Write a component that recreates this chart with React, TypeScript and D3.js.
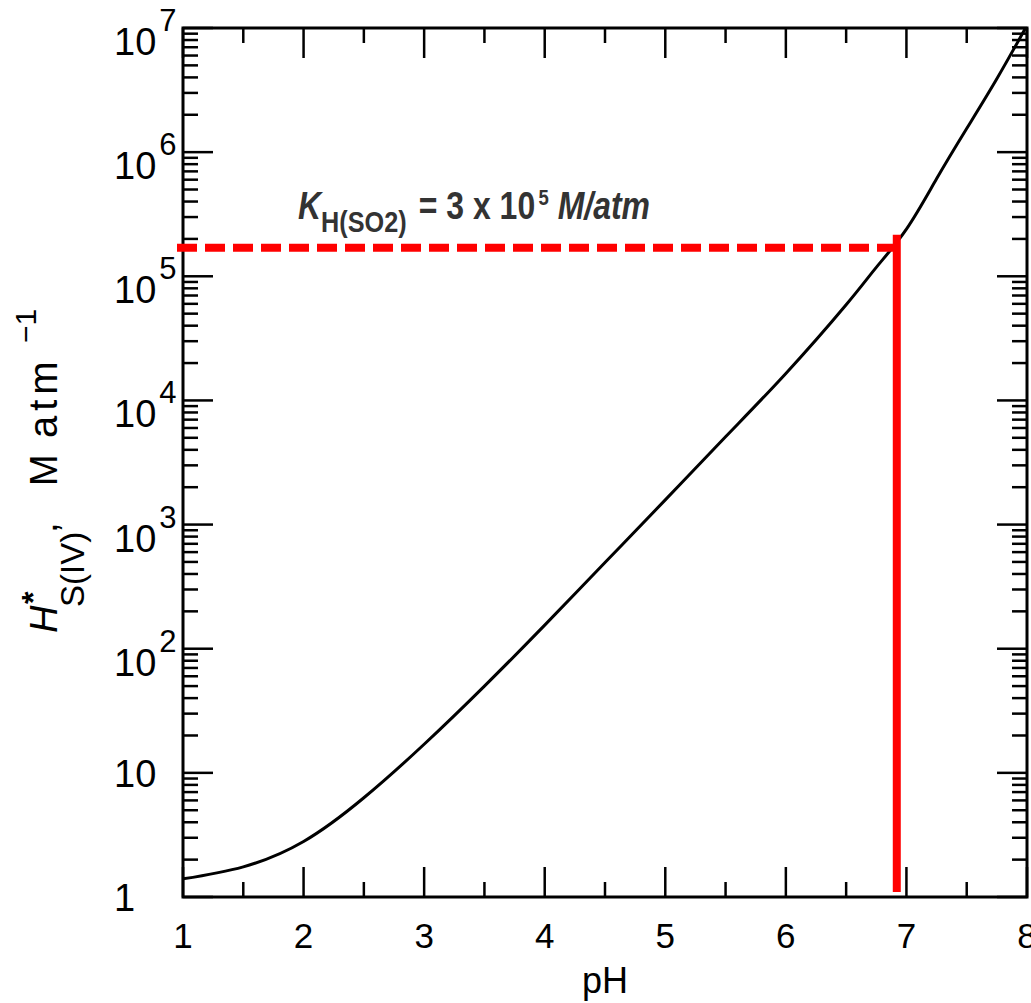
import React, { useRef, useEffect } from 'react';
import * as d3 from 'd3';

// curve: pH vs H*_S(IV) (M/atm)
const pHValues = [1, 1.5, 2, 2.5, 3, 3.5, 4, 4.5, 5, 5.5, 6, 6.5, 6.75, 7, 7.25, 7.5, 7.75, 8];
const hStarValues = [1.4, 1.75, 2.8, 6.3, 17, 50, 155, 495, 1580, 5100, 16500, 59000, 118000, 240000, 610000, 1.55e6, 3.9e6, 1.05e7];

const xMajorTicks = [1, 2, 3, 4, 5, 6, 7, 8];
const xMinorTicks = [1.5, 2.5, 3.5, 4.5, 5.5, 6.5, 7.5];
const yDecades = [1, 1e1, 1e2, 1e3, 1e4, 1e5, 1e6, 1e7];
const yTickBase = ['1', '10', '10', '10', '10', '10', '10', '10'];
const yTickExp = ['', '', '2', '3', '4', '5', '6', '7'];

// red marker
const markerPH = 6.92;
const markerValue = 1.7e5;

const App = () => {
    const chartRef = useRef<SVGSVGElement | null>(null);

    useEffect(() => {
        const width = 1031;
        const height = 1003;
        const margin = { top: 28, right: 4, bottom: 106, left: 183 };
        const font = '"Liberation Sans", Arial, Helvetica, sans-serif';

        const svg = d3.select(chartRef.current);
        svg.selectAll('*').remove();
        svg.attr('width', width).attr('height', height);

        const x = d3.scaleLinear().domain([1, 8]).range([margin.left, width - margin.right]);
        const y = d3.scaleLog().domain([1, 1e7]).range([height - margin.bottom, margin.top]);

        const [x0, x1] = x.range();
        const [y0, y1] = y.range(); // y0 bottom, y1 top

        svg.append('defs').append('clipPath').attr('id', 'plotClip')
            .append('rect')
            .attr('x', x0).attr('y', y1)
            .attr('width', x1 - x0).attr('height', y0 - y1);

        // minor y ticks (2..9 per decade)
        const yMinor: number[] = [];
        yDecades.slice(0, -1).forEach(d => {
            for (let k = 2; k <= 9; k++) yMinor.push(d * k);
        });

        const ticks = svg.append('g').attr('stroke', '#000').attr('stroke-width', 2.5);

        // x ticks bottom + top
        xMajorTicks.forEach(t => {
            ticks.append('line').attr('x1', x(t)).attr('x2', x(t)).attr('y1', y0).attr('y2', y0 - 30);
            ticks.append('line').attr('x1', x(t)).attr('x2', x(t)).attr('y1', y1).attr('y2', y1 + 30);
        });
        xMinorTicks.forEach(t => {
            ticks.append('line').attr('x1', x(t)).attr('x2', x(t)).attr('y1', y0).attr('y2', y0 - 15);
            ticks.append('line').attr('x1', x(t)).attr('x2', x(t)).attr('y1', y1).attr('y2', y1 + 15);
        });

        // y ticks left + right
        yDecades.forEach(v => {
            ticks.append('line').attr('x1', x0).attr('x2', x0 + 30).attr('y1', y(v)).attr('y2', y(v));
            ticks.append('line').attr('x1', x1).attr('x2', x1 - 30).attr('y1', y(v)).attr('y2', y(v));
        });
        yMinor.forEach(v => {
            ticks.append('line').attr('x1', x0).attr('x2', x0 + 15).attr('y1', y(v)).attr('y2', y(v));
            ticks.append('line').attr('x1', x1).attr('x2', x1 - 15).attr('y1', y(v)).attr('y2', y(v));
        });

        // frame
        svg.append('rect')
            .attr('x', x0).attr('y', y1)
            .attr('width', x1 - x0).attr('height', y0 - y1)
            .attr('fill', 'none').attr('stroke', '#000').attr('stroke-width', 3);

        // x tick labels
        svg.append('g').selectAll('text')
            .data(xMajorTicks)
            .enter().append('text')
            .attr('x', d => x(d))
            .attr('y', y0 + 51)
            .attr('text-anchor', 'middle')
            .attr('font-family', font)
            .attr('font-size', 35)
            .attr('fill', '#000')
            .text(d => d);

        // x axis label
        svg.append('text')
            .attr('x', (x0 + x1) / 2)
            .attr('y', y0 + 96)
            .attr('text-anchor', 'middle')
            .attr('font-family', font)
            .attr('font-size', 36)
            .text('pH');

        // y tick labels
        yDecades.forEach((v, i) => {
            const hasExp = yTickExp[i] !== '';
            const t = svg.append('text')
                .attr('x', 114)
                .attr('y', y(v) + (hasExp ? 27 : 14))
                .attr('font-family', font)
                .attr('font-size', 38)
                .attr('fill', '#000');
            t.append('tspan').text(yTickBase[i]);
            if (hasExp) {
                t.append('tspan')
                    .attr('dx', 3)
                    .attr('dy', -24)
                    .attr('font-size', 31)
                    .text(yTickExp[i]);
            }
        });

        // y axis label (rotated)
        const yl = svg.append('text')
            .attr('transform', 'translate(57,0) rotate(-90)')
            .attr('font-family', font)
            .attr('font-size', 38)
            .attr('fill', '#000');
        yl.append('tspan').attr('x', -633).attr('y', 0).attr('font-style', 'italic').text('H');
        yl.append('tspan').attr('x', -604).attr('y', -13).attr('font-size', 32).attr('font-weight', 'bold').text('*');
        yl.append('tspan').attr('x', -607).attr('y', 27).attr('font-size', 33).text('S(IV)');
        yl.append('tspan').attr('x', -533).attr('y', 0).text(',');
        yl.append('tspan').attr('x', -486).attr('y', 0).text('M');
        yl.append('tspan').attr('x', -438).attr('y', 0).attr('letter-spacing', 5).attr('font-size', 40).text('atm');
        yl.append('tspan').attr('x', -343).attr('y', -21).attr('font-size', 30).text('\u22121');

        // curve
        const line = d3.line<number>()
            .x((d, i) => x(pHValues[i]))
            .y(d => y(d))
            .curve(d3.curveNatural);

        svg.append('path')
            .datum(hStarValues)
            .attr('clip-path', 'url(#plotClip)')
            .attr('fill', 'none')
            .attr('stroke', '#000')
            .attr('stroke-width', 3)
            .attr('d', line);

        // red marker lines
        const red = '#ff0000';
        svg.append('line')
            .attr('x1', x0 - 6).attr('x2', x(markerPH))
            .attr('y1', y(markerValue)).attr('y2', y(markerValue))
            .attr('stroke', red)
            .attr('stroke-width', 8)
            .attr('stroke-dasharray', '20 8');
        svg.append('line')
            .attr('x1', x(markerPH)).attr('x2', x(markerPH))
            .attr('y1', y(markerValue) - 13).attr('y2', y0 - 5)
            .attr('stroke', red)
            .attr('stroke-width', 8);

        // annotation
        const ann = svg.append('text')
            .attr('x', 298)
            .attr('y', 219)
            .attr('font-family', '"Liberation Sans Narrow", "Liberation Sans", Arial, sans-serif')
            .attr('font-weight', 'bold')
            .attr('font-size', 38)
            .attr('fill', '#333')
            .attr('textLength', 352)
            .attr('lengthAdjust', 'spacingAndGlyphs');
        ann.append('tspan').attr('font-style', 'italic').text('K');
        ann.append('tspan').attr('font-size', 30).attr('dy', 13).text('H(SO2)');
        ann.append('tspan').attr('dx', 4).attr('dy', -13).text(' = 3 x 10');
        ann.append('tspan').attr('font-size', 22).attr('dx', 4).attr('dy', -14).text('5');
        ann.append('tspan').attr('font-style', 'italic').attr('dy', 14).text(' M/atm');
    }, []);

    return (
        <svg
            ref={chartRef}
            style={{ position: 'absolute', left: 0, top: 0, background: '#fff', display: 'block' }}
        />
    );
};

export default App;
